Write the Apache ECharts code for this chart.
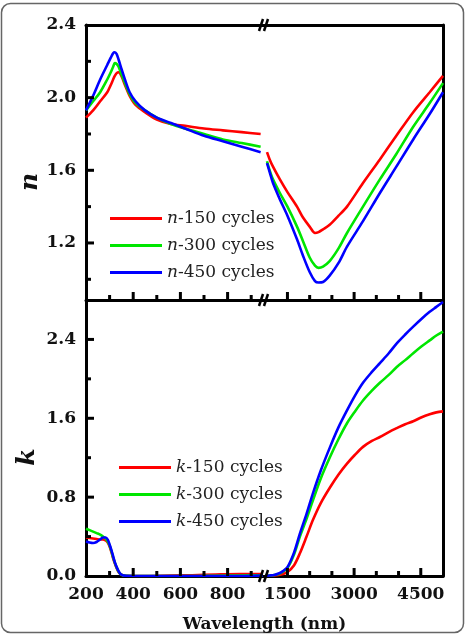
<!DOCTYPE html>
<html>
<head>
<meta charset="utf-8">
<script src="https://cdn.jsdelivr.net/npm/echarts@6/dist/echarts.min.js"></script>
<style>
  html, body { margin: 0; padding: 0; background: #fff; }
  #chart { width: 467px; height: 635px; }
</style>
</head>
<body>
<div id="chart"></div>
<script>
  // ---- n, short wavelengths (200-950 nm) ----
  var nWaveLeft = [200, 230, 260, 290, 305, 315, 322, 330, 338, 350, 365, 385, 410, 450, 500, 560, 620, 700, 780, 860, 940];
  var nRedLeft   = [1.89, 1.93, 1.98, 2.03, 2.07, 2.10, 2.12, 2.135, 2.14, 2.12, 2.07, 2.01, 1.96, 1.92, 1.88, 1.855, 1.845, 1.83, 1.82, 1.81, 1.80];
  var nGreenLeft = [1.93, 1.98, 2.03, 2.10, 2.14, 2.17, 2.19, 2.185, 2.17, 2.13, 2.08, 2.02, 1.97, 1.93, 1.89, 1.855, 1.83, 1.80, 1.77, 1.75, 1.73];
  var nBlueLeft  = [1.93, 2.01, 2.10, 2.18, 2.22, 2.245, 2.25, 2.24, 2.21, 2.16, 2.10, 2.03, 1.98, 1.93, 1.89, 1.86, 1.83, 1.79, 1.76, 1.73, 1.70];

  // ---- n, long wavelengths (950-5000 nm) ----
  var nWaveRight = [1040, 1100, 1175, 1330, 1500, 1715, 1850, 2000, 2120, 2200, 2300, 2450, 2650, 2840, 3200, 3580, 3950, 4330, 4700, 5000];
  var nRedRight   = [1.70, 1.66, 1.62, 1.55, 1.48, 1.40, 1.34, 1.29, 1.255, 1.26, 1.275, 1.30, 1.35, 1.40, 1.53, 1.66, 1.79, 1.92, 2.03, 2.12];
  var nGreenRight = [1.65, 1.60, 1.55, 1.475, 1.40, 1.29, 1.21, 1.12, 1.075, 1.063, 1.07, 1.10, 1.17, 1.255, 1.40, 1.55, 1.69, 1.84, 1.97, 2.08];
  var nBlueRight  = [1.64, 1.59, 1.53, 1.44, 1.35, 1.22, 1.13, 1.04, 0.99, 0.982, 0.985, 1.02, 1.09, 1.18, 1.32, 1.475, 1.62, 1.77, 1.91, 2.03];

  // ---- k, short wavelengths ----
  var kWaveLeft = [200, 215, 230, 245, 260, 272, 283, 292, 300, 308, 315, 322, 330, 338, 346, 355, 370, 450, 550, 650, 750, 850, 950];
  var kRedLeft   = [0.39, 0.385, 0.38, 0.375, 0.37, 0.37, 0.36, 0.34, 0.30, 0.24, 0.18, 0.13, 0.08, 0.04, 0.02, 0.008, 0.003, 0, 0.005, 0.008, 0.015, 0.02, 0.02];
  var kGreenLeft = [0.48, 0.465, 0.45, 0.435, 0.42, 0.40, 0.38, 0.35, 0.31, 0.25, 0.19, 0.135, 0.085, 0.045, 0.02, 0.008, 0.002, 0, 0, 0, 0.003, 0.005, 0.008];
  var kBlueLeft  = [0.35, 0.34, 0.335, 0.345, 0.37, 0.39, 0.39, 0.37, 0.32, 0.26, 0.20, 0.14, 0.09, 0.05, 0.02, 0.008, 0.002, 0, 0, 0, 0, 0, 0.005];

  // ---- k, long wavelengths ----
  var kWaveRight = [1000, 1100, 1200, 1300, 1400, 1500, 1650, 1780, 1930, 2075, 2250, 2460, 2650, 2840, 3020, 3200, 3400, 3580, 3780, 3960, 4150, 4330, 4520, 4700, 4850, 5000];
  var kRedRight   = [0, 0.003, 0.005, 0.01, 0.02, 0.04, 0.11, 0.23, 0.40, 0.57, 0.74, 0.90, 1.03, 1.14, 1.23, 1.31, 1.37, 1.41, 1.46, 1.50, 1.54, 1.57, 1.61, 1.64, 1.66, 1.67];
  var kGreenRight = [0, 0.005, 0.01, 0.02, 0.045, 0.08, 0.22, 0.40, 0.58, 0.77, 0.99, 1.21, 1.39, 1.55, 1.67, 1.78, 1.88, 1.96, 2.04, 2.12, 2.19, 2.26, 2.33, 2.39, 2.44, 2.48];
  var kBlueRight  = [0, 0.005, 0.01, 0.025, 0.05, 0.09, 0.24, 0.43, 0.63, 0.84, 1.07, 1.31, 1.51, 1.68, 1.83, 1.96, 2.07, 2.16, 2.26, 2.36, 2.45, 2.53, 2.61, 2.68, 2.73, 2.78];

  var nNames = ['n-150 cycles', 'n-300 cycles', 'n-450 cycles'];
  var kNames = ['k-150 cycles', 'k-300 cycles', 'k-450 cycles'];
  var colors = ['#ff0000', '#00e600', '#0000ff'];

  // tick labels and tick marks
  var xLeftLabels = [200, 400, 600, 800];
  var xRightLabels = [1500, 3000, 4500];
  var nLabels = [1.2, 1.6, 2.0, 2.4];
  var kLabels = [0, 0.8, 1.6, 2.4];
  var xLeftMajor = [400, 600, 800], xLeftMinor = [300, 500, 700, 900];
  var xRightMajor = [1500, 3000, 4500], xRightMinor = [2000, 2500, 3500, 4000];
  var nMajor = [1.2, 1.6, 2.0], nMinor = [1.0, 1.4, 1.8, 2.2];
  var kMajor = [0.8, 1.6, 2.4], kMinor = [0.4, 1.2, 2.0];

  // layout
  var LEFT = 86, BRK = 263, RIGHT = 443, TOP = 25, MID = 300, BOTTOM = 576;
  var SERIF = 'DejaVu Serif';

  function zip(w, v) {
    return w.map(function (x, i) { return [x, v[i]]; });
  }

  function xAxisOf(grid, min, max, labels) {
    return {
      type: 'value', gridIndex: grid, min: min, max: max, position: 'bottom',
      splitLine: { show: false }, axisTick: { show: false },
      axisLine: { show: true, onZero: false, lineStyle: { color: '#000', width: 3 } },
      axisLabel: labels ? {
        show: true, customValues: labels, margin: 10, color: '#111',
        fontFamily: SERIF, fontWeight: 'bold', fontSize: 17,
        formatter: function (v) { return String(v); }
      } : { show: false }
    };
  }
  function topLine(grid, min, max) {
    return {
      type: 'value', gridIndex: grid, min: min, max: max, position: 'top',
      splitLine: { show: false }, axisTick: { show: false }, axisLabel: { show: false },
      axisLine: { show: true, onZero: false, lineStyle: { color: '#000', width: 3 } }
    };
  }
  function yAxisOf(grid, min, max, labels) {
    return {
      type: 'value', gridIndex: grid, min: min, max: max, position: 'left',
      splitLine: { show: false }, axisTick: { show: false },
      axisLine: { show: true, onZero: false, lineStyle: { color: '#000', width: 3 } },
      axisLabel: {
        show: true, customValues: labels, margin: 10, color: '#111',
        fontFamily: SERIF, fontWeight: 'bold', fontSize: 17,
        formatter: function (v) { return Number(v).toFixed(1); }
      }
    };
  }
  function rightLine(grid, min, max) {
    return {
      type: 'value', gridIndex: grid, min: min, max: max, position: 'right',
      splitLine: { show: false }, axisTick: { show: false }, axisLabel: { show: false },
      axisLine: { show: true, onZero: false, lineStyle: { color: '#000', width: 3 } }
    };
  }

  function line(name, idx, axis, data) {
    return {
      name: name, type: 'line', xAxisIndex: axis, yAxisIndex: axis,
      data: data, showSymbol: false, symbol: 'none', smooth: 0.3,
      color: colors[idx],
      lineStyle: { width: 2.6, color: colors[idx] }
    };
  }

  function legendOf(names, left, top) {
    return {
      data: names, orient: 'vertical', left: left, top: top,
      icon: 'rect', itemWidth: 52, itemHeight: 3, itemGap: 10,
      textStyle: {
        fontFamily: SERIF, fontSize: 17, color: '#222', lineHeight: 17,
        rich: { i: { fontFamily: SERIF, fontSize: 17, fontStyle: 'italic', color: '#222' } }
      },
      formatter: function (name) { return '{i|' + name.charAt(0) + '}' + name.slice(1); }
    };
  }

  // break marks "//"
  function slashes(y) {
    return [0, 5].map(function (d) {
      return {
        type: 'line', z: 100,
        shape: { x1: BRK - 4 + d, y1: y + 6, x2: BRK + d, y2: y - 6 },
        style: { stroke: '#000', lineWidth: 2.5 }
      };
    });
  }

  var chart = echarts.init(document.getElementById('chart'));

  var staticGraphic = [
    {
      type: 'rect', z: -1,
      shape: { x: 1.5, y: 3.5, width: 462, height: 629, r: 9 },
      style: { fill: 'none', stroke: '#666', lineWidth: 1.5 }
    },
    {
      type: 'text', x: 30, y: 182, rotation: Math.PI / 2,
      style: { text: 'n', fontFamily: SERIF, fontSize: 25, fontWeight: 'bold', fontStyle: 'italic',
               fill: '#111', align: 'center', verticalAlign: 'middle' }
    },
    {
      type: 'text', x: 27, y: 457, rotation: Math.PI / 2,
      style: { text: 'k', fontFamily: SERIF, fontSize: 25, fontWeight: 'bold', fontStyle: 'italic',
               fill: '#111', align: 'center', verticalAlign: 'middle' }
    },
    {
      type: 'text', x: (LEFT + RIGHT) / 2, y: 625,
      style: { text: 'Wavelength (nm)', fontFamily: SERIF, fontSize: 17, fontWeight: 'bold',
               fill: '#111', align: 'center', verticalAlign: 'middle' }
    }
  ].concat(slashes(TOP), slashes(MID), slashes(BOTTOM));

  var option = {
    backgroundColor: '#fff',
    animation: false,
    grid: [
      { left: LEFT, top: TOP, width: BRK - LEFT, height: MID - TOP },
      { left: BRK, top: TOP, width: RIGHT - BRK, height: MID - TOP },
      { left: LEFT, top: MID, width: BRK - LEFT, height: BOTTOM - MID },
      { left: BRK, top: MID, width: RIGHT - BRK, height: BOTTOM - MID }
    ],
    xAxis: [
      xAxisOf(0, 200, 950, null),
      xAxisOf(1, 950, 5000, null),
      xAxisOf(2, 200, 950, xLeftLabels),
      xAxisOf(3, 950, 5000, xRightLabels),
      topLine(0, 200, 950),
      topLine(1, 950, 5000)
    ],
    yAxis: [
      yAxisOf(0, 0.886, 2.4, nLabels),
      rightLine(1, 0.886, 2.4),
      yAxisOf(2, 0, 2.8, kLabels),
      rightLine(3, 0, 2.8)
    ],
    legend: [
      legendOf(nNames, 105, 205),
      legendOf(kNames, 114, 454)
    ],
    series: [
      line(nNames[0], 0, 0, zip(nWaveLeft, nRedLeft)),
      line(nNames[1], 1, 0, zip(nWaveLeft, nGreenLeft)),
      line(nNames[2], 2, 0, zip(nWaveLeft, nBlueLeft)),
      line(nNames[0], 0, 1, zip(nWaveRight, nRedRight)),
      line(nNames[1], 1, 1, zip(nWaveRight, nGreenRight)),
      line(nNames[2], 2, 1, zip(nWaveRight, nBlueRight)),
      line(kNames[0], 0, 2, zip(kWaveLeft, kRedLeft)),
      line(kNames[1], 1, 2, zip(kWaveLeft, kGreenLeft)),
      line(kNames[2], 2, 2, zip(kWaveLeft, kBlueLeft)),
      line(kNames[0], 0, 3, zip(kWaveRight, kRedRight)),
      line(kNames[1], 1, 3, zip(kWaveRight, kGreenRight)),
      line(kNames[2], 2, 3, zip(kWaveRight, kBlueRight))
    ],
    graphic: staticGraphic
  };

  chart.setOption(option);

  // inward tick marks, placed through the axes' own scales
  var ticks = [];
  function xTicks(axis, y, vals, len) {
    vals.forEach(function (v) {
      var x = chart.convertToPixel({ xAxisIndex: axis }, v);
      ticks.push({ type: 'line', z: 50, shape: { x1: x, y1: y, x2: x, y2: y - len },
                   style: { stroke: '#000', lineWidth: 3 } });
    });
  }
  function yTicks(axis, x, vals, len) {
    vals.forEach(function (v) {
      var y = chart.convertToPixel({ yAxisIndex: axis }, v);
      ticks.push({ type: 'line', z: 50, shape: { x1: x, y1: y, x2: x + len, y2: y },
                   style: { stroke: '#000', lineWidth: 3 } });
    });
  }
  xTicks(0, MID, xLeftMajor, 8);  xTicks(0, MID, xLeftMinor, 5);
  xTicks(1, MID, xRightMajor, 8); xTicks(1, MID, xRightMinor, 5);
  xTicks(2, BOTTOM, xLeftMajor, 8);  xTicks(2, BOTTOM, xLeftMinor, 5);
  xTicks(3, BOTTOM, xRightMajor, 8); xTicks(3, BOTTOM, xRightMinor, 5);
  yTicks(0, LEFT, nMajor, 8); yTicks(0, LEFT, nMinor, 5);
  yTicks(2, LEFT, kMajor, 8); yTicks(2, LEFT, kMinor, 5);

  chart.setOption({ graphic: staticGraphic.concat(ticks) });
</script>
</body>
</html>
